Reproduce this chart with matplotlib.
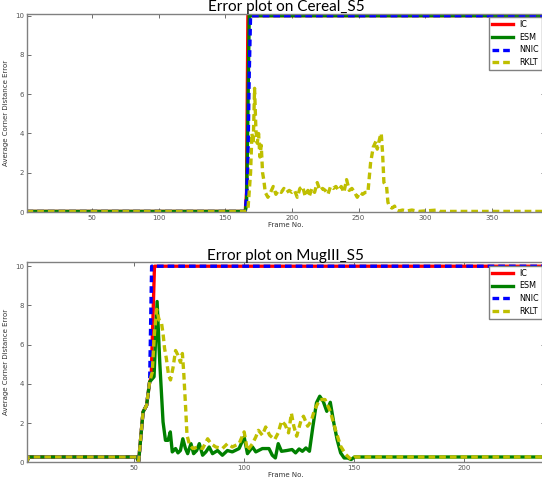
import matplotlib
matplotlib.use('Agg')
import matplotlib.pyplot as plt

# ---- Cereal_S5 (top) ----
cer_ic_f = [1, 165, 166, 167, 390]
cer_ic_v = [0.03, 0.03, 1.0, 10, 10]
cer_esm_f = [1, 165, 166, 167, 168, 390]
cer_esm_v = [0.03, 0.03, 0.4, 5.0, 10, 10]
cer_nnic_f = [1, 165, 166, 167, 168, 169, 390]
cer_nnic_v = [0.03, 0.03, 0.8, 2.5, 7.0, 10, 10]
cer_rklt_f = [1, 165, 167, 169, 170, 171, 172, 173, 174, 175, 176, 177, 178, 179, 180,
              182, 184, 186, 188, 190, 192, 194, 196, 198, 200, 202, 204, 206, 208, 210,
              212, 213, 215, 217, 219, 221, 223, 225, 227, 229, 231, 233, 235, 237, 239,
              241, 243, 245, 247, 249, 251, 253, 255, 257, 259, 261, 263, 264, 266, 267,
              268, 269, 271, 272, 273, 275, 277, 278, 280, 283, 286, 290, 295, 309, 311, 390]
cer_rklt_v = [0.03, 0.03, 0.1, 2.0, 4.0, 3.5, 6.3, 4.2, 3.5, 4.0, 2.8, 3.4, 2.0, 1.6, 1.0,
              0.75, 1.0, 1.3, 0.9, 1.1, 1.0, 1.2, 1.0, 1.1, 1.0, 1.1, 0.75, 1.2, 1.3, 0.8,
              1.1, 0.8, 1.2, 1.0, 1.5, 1.1, 1.2, 1.1, 0.9, 1.3, 1.2, 1.3, 1.1, 1.3, 1.0,
              1.65, 1.1, 1.2, 1.0, 0.75, 1.0, 0.9, 1.0, 1.0, 2.5, 3.3, 3.6, 3.2, 3.8, 4.0,
              3.0, 1.5, 1.3, 0.5, 0.3, 0.2, 0.3, 0.1, 0.05, 0.1, 0.05, 0.1, 0.03, 0.1, 0.03, 0.03]

# ---- MugIII_S5 (bottom) ----
mug_esm_f = [1, 2, 51, 52, 54, 55.6, 57, 59, 60.4, 61.6, 63.1, 64.2, 65.4, 66.4, 67.3,
             68.8, 69.9, 71, 72.1, 73.3, 74.3, 75.8, 77, 78.4, 79.6, 81.1, 82.6, 84.1,
             85.6, 87.9, 90.1, 92.4, 94.6, 97.7, 100, 101.5, 103.8, 105.3, 108.3, 111.3,
             112.8, 114.2, 115.5, 117, 119.4, 121.8, 123.4, 125, 126.5, 128.1, 129.7,
             131.3, 132.9, 134.4, 136, 137.6, 139.2, 140.8, 142.3, 143.9, 145.5, 147.1,
             148.7, 150.2, 237]
mug_esm_v = [0.0, 0.27, 0.27, 0.05, 2.57, 2.9, 4.1, 4.36, 8.2, 5.1, 2.06, 1.12, 1.12, 1.55, 0.53,
             0.7, 0.48, 0.6, 1.2, 0.7, 0.44, 0.95, 0.44, 0.6, 0.95, 0.36, 0.53, 0.78,
             0.44, 0.6, 0.36, 0.6, 0.53, 0.7, 1.29, 0.44, 0.78, 0.53, 0.7, 0.7,
             0.36, 0.22, 0.95, 0.56, 0.6, 0.65, 0.48, 0.68, 0.56, 0.73, 0.56,
             1.84, 3.03, 3.37, 3.1, 2.6, 3.06, 2.0, 1.16, 0.48, 0.22, 0.22,
             0.14, 0.27, 0.27]
mug_ic_f = [1, 2, 51, 52, 54, 55.6, 57, 57.7, 59.2, 237]
mug_ic_v = [0.0, 0.27, 0.27, 0.05, 2.57, 2.9, 4.1, 4.3, 10, 10]
mug_nnic_f = [1, 2, 51, 52, 54, 55.6, 57, 57.9, 237]
mug_nnic_v = [0.0, 0.27, 0.27, 0.05, 2.57, 2.9, 4.1, 10, 10]
mug_rklt_f = [1, 2, 51, 52, 54, 55.6, 57, 58.2, 59.2, 60.2, 61.3, 62.3, 63.1, 63.8, 64.6,
              65.6, 66.5, 67.6, 68.8, 69.9, 71, 71.9, 72.5, 73.4, 74, 75.2, 76.7, 79,
              81.1, 83.4, 84.9, 87.1, 90.1, 92.4, 94.6, 97.7, 100, 101.5, 103.8, 105.3,
              106.5, 108.3, 109.8, 111.6, 113.9, 115.5, 117, 118.6, 120.2, 121.5, 122.6,
              123.9, 125.8, 127, 128.9, 130.5, 132.1, 134.4, 136.8, 139.2, 141.5, 143.9,
              146.3, 148.7, 150.2, 237]
mug_rklt_v = [0.0, 0.27, 0.27, 0.05, 2.57, 2.9, 4.1, 4.6, 6.6, 7.8, 7.26, 7.17, 6.57, 5.8, 5.3,
              4.45, 4.2, 4.8, 5.7, 5.46, 5.1, 5.55, 4.6, 2.74, 1.38, 0.87, 0.7, 0.78,
              0.7, 1.2, 0.95, 0.78, 0.7, 0.95, 0.78, 0.95, 1.55, 0.6, 0.95, 1.29,
              1.63, 1.38, 1.8, 1.38, 1.16, 1.5, 2.1, 1.92, 1.5, 2.5, 1.84,
              1.33, 2.1, 2.35, 1.84, 2.1, 2.7, 3.2, 3.2, 2.6, 1.67, 0.82,
              0.39, 0.14, 0.27, 0.27]

titles = ['Error plot on Cereal_S5', 'Error plot on MugIII_S5']
labels = ['IC', 'ESM', 'NNIC', 'RKLT']
xmax = [390, 237]
yticks = [0, 2, 4, 6, 8, 10]

fig = plt.figure(figsize=(5.42, 4.79), dpi=100)
ax1 = fig.add_axes([0.049, 0.5574, 0.957, 0.414])
ax2 = fig.add_axes([0.049, 0.0349, 0.957, 0.4175])

data = [
    (cer_ic_f, cer_ic_v, cer_esm_f, cer_esm_v, cer_nnic_f, cer_nnic_v, cer_rklt_f, cer_rklt_v),
    (mug_ic_f, mug_ic_v, mug_esm_f, mug_esm_v, mug_nnic_f, mug_nnic_v, mug_rklt_f, mug_rklt_v),
]

for i, ax in enumerate([ax1, ax2]):
    icf, icv, esf, esv, nnf, nnv, rkf, rkv = data[i]
    ax.plot(icf, icv, color='#ff0000', lw=2.4, label=labels[0])
    ax.plot(esf, esv, color='#008000', lw=2.4, label=labels[1])
    ax.plot(nnf, nnv, color='#0000ff', lw=2.4, ls=(0, (2, 1.2)), label=labels[2])
    ax.plot(rkf, rkv, color='#bfbf00', lw=2.4, ls=(0, (2, 1.2)), label=labels[3])
    ax.set_xlim(1, xmax[i])
    ax.set_ylim(0, 10.1 if i == 0 else 10.2)
    ax.set_yticks(yticks)
    ax.tick_params(direction='in', top=True, right=True, length=3, width=0.6,
                   labelsize=5, colors='#555555', pad=2)
    for sp in ax.spines.values():
        sp.set_color('#808080')
        sp.set_linewidth(1.0)
    ax.set_xlabel('Frame No.', fontsize=5, color='#333333', labelpad=1)
    ax.set_ylabel('Average Corner Distance Error', fontsize=5, color='#333333', labelpad=4)
    ax.set_title(titles[i], fontsize=11, family='Lato', pad=2)
    leg = ax.legend(loc='upper right', fontsize=5.8, handlelength=2.6, labelspacing=0.45,
                    borderaxespad=0.4, fancybox=False, framealpha=1)
    leg.get_frame().set_edgecolor('#808080')

fig.savefig('out.png', dpi=100)
